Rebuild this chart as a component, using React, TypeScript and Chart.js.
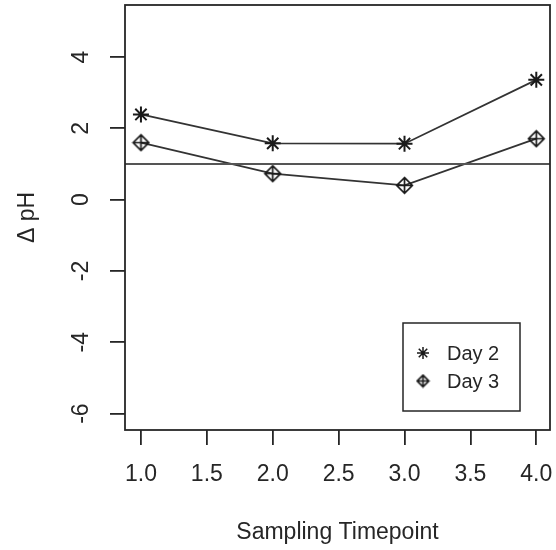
import React, { useEffect, useRef } from "react";
import { Chart, registerables } from "chart.js";
import { drawPoint } from "chart.js/helpers";

Chart.register(...registerables);

// ---- data ----
const TIMEPOINTS = [1, 2, 3, 4];
const DAY2 = [2.39, 1.58, 1.57, 3.36];
const DAY3 = [1.6, 0.73, 0.4, 1.71];
const SERIES_LABELS = ["Day 2", "Day 3"];
const REF_LINE = 1;
const X_TICKS = [1, 1.5, 2, 2.5, 3, 3.5, 4];
const Y_TICKS = [-6, -4, -2, 0, 2, 4];
const X_MIN = 0.879;
const X_MAX = 4.104;
const Y_MIN = -6.46;
const Y_MAX = 5.46;
const X_TITLE = "Sampling Timepoint";
const Y_TITLE = "\u0394 pH";

const INK = "#262626";
const FONT = "'Liberation Sans', Arial, Helvetica, sans-serif";

function makeDiamondPlus(size: number, lw: number, color: string) {
  const c = document.createElement("canvas");
  c.width = size;
  c.height = size;
  const ctx = c.getContext("2d")!;
  const h = size / 2;
  const r = h - lw;
  ctx.strokeStyle = color;
  ctx.lineWidth = lw;
  ctx.beginPath();
  ctx.moveTo(h, h - r);
  ctx.lineTo(h + r, h);
  ctx.lineTo(h, h + r);
  ctx.lineTo(h - r, h);
  ctx.closePath();
  ctx.moveTo(h, h - r);
  ctx.lineTo(h, h + r);
  ctx.moveTo(h - r, h);
  ctx.lineTo(h + r, h);
  ctx.stroke();
  return c;
}

export default function App() {
  const ref = useRef<HTMLCanvasElement | null>(null);

  useEffect(() => {
    if (!ref.current) return;
    const diamond = makeDiamondPlus(19, 1.7, "#1a1a1a");
    const diamondSmall = makeDiamondPlus(15, 1.7, "#1a1a1a");

    const framePlugin = {
      id: "frame",
      afterDatasetsDraw(chart: any) {
        const { ctx, chartArea: a, scales } = chart;
        ctx.save();
        const yr = scales.y.getPixelForValue(REF_LINE);
        ctx.strokeStyle = "#555555";
        ctx.lineWidth = 2;
        ctx.beginPath();
        ctx.moveTo(a.left, yr);
        ctx.lineTo(a.right, yr);
        ctx.stroke();
        ctx.strokeStyle = INK;
        ctx.lineWidth = 1.8;
        ctx.strokeRect(a.left, a.top, a.right - a.left, a.bottom - a.top);
        ctx.restore();
      },
      afterDraw(chart: any) {
        const { ctx, chartArea: a, scales } = chart;
        ctx.save();
        ctx.fillStyle = INK;
        ctx.font = `23px ${FONT}`;
        ctx.textAlign = "center";
        ctx.textBaseline = "middle";
        scales.y.ticks.forEach((t: any) => {
          const y = scales.y.getPixelForValue(t.value);
          ctx.save();
          ctx.translate(82, y);
          ctx.rotate(-Math.PI / 2);
          ctx.fillText(String(t.label), 0, 0);
          ctx.restore();
        });
        const bw = 117,
          bh = 88;
        const bx = a.right - 30 - bw;
        const by = a.bottom - 19 - bh;
        ctx.strokeStyle = INK;
        ctx.lineWidth = 1.5;
        ctx.strokeRect(bx, by, bw, bh);
        ctx.font = `20px ${FONT}`;
        ctx.textAlign = "left";
        ctx.textBaseline = "middle";
        const styles = ["star", diamondSmall];
        chart.data.datasets.forEach((ds: any, i: number) => {
          const yy = by + 30 + i * 28;
          ctx.strokeStyle = "#1a1a1a";
          ctx.fillStyle = "#1a1a1a";
          drawPoint(ctx, { pointStyle: styles[i], rotation: 0, borderWidth: 2, radius: 6 } as any, bx + 20, yy);
          ctx.fillStyle = INK;
          ctx.fillText(ds.label, bx + 44, yy + 1);
        });
        ctx.restore();
      },
    };

    const chart = new Chart(ref.current, {
      type: "line",
      data: {
        datasets: [
          {
            label: SERIES_LABELS[0],
            data: TIMEPOINTS.map((x, i) => ({ x, y: DAY2[i] })),
            borderColor: "#333333",
            borderWidth: 1.8,
            pointStyle: "star",
            pointRadius: 8,
            pointBorderWidth: 2,
            pointBorderColor: "#1a1a1a",
            pointBackgroundColor: "#1a1a1a",
            tension: 0,
          },
          {
            label: SERIES_LABELS[1],
            data: TIMEPOINTS.map((x, i) => ({ x, y: DAY3[i] })),
            borderColor: "#333333",
            borderWidth: 1.8,
            pointStyle: diamond as any,
            pointRadius: 8,
            tension: 0,
          },
        ],
      },
      options: {
        animation: false,
        responsive: false,
        devicePixelRatio: 1,
        layout: { autoPadding: false, padding: { top: 5, right: 6, left: 0, bottom: 0 } },
        plugins: { legend: { display: false }, tooltip: { enabled: false } },
        scales: {
          x: {
            type: "linear",
            min: X_MIN,
            max: X_MAX,
            afterBuildTicks: (s: any) => {
              s.ticks = X_TICKS.map((v) => ({ value: v }));
            },
            afterFit: (s: any) => {
              s.height = 120;
              s.paddingLeft = 0;
              s.paddingRight = 0;
              s.paddingTop = 0;
              s.paddingBottom = 0;
            },
            border: { display: false },
            grid: {
              drawOnChartArea: false,
              drawTicks: true,
              tickLength: 15,
              color: INK,
              lineWidth: 1.8,
            },
            ticks: {
              autoSkip: false,
              maxRotation: 0,
              minRotation: 0,
              padding: 16,
              color: INK,
              font: { family: FONT, size: 23 },
              callback: (v: any) => Number(v).toFixed(1),
            },
            title: {
              display: true,
              text: X_TITLE,
              color: INK,
              font: { family: FONT, size: 23 },
              padding: { top: 0, bottom: 4 },
            },
          },
          y: {
            type: "linear",
            min: Y_MIN,
            max: Y_MAX,
            afterBuildTicks: (s: any) => {
              s.ticks = Y_TICKS.map((v) => ({ value: v }));
            },
            afterFit: (s: any) => {
              s.width = 125;
              s.paddingLeft = 0;
              s.paddingRight = 0;
              s.paddingTop = 0;
              s.paddingBottom = 0;
            },
            border: { display: false },
            grid: {
              drawOnChartArea: false,
              drawTicks: true,
              tickLength: 15,
              color: INK,
              lineWidth: 1.8,
            },
            ticks: {
              display: false,
              autoSkip: false,
              callback: (v: any) => String(v),
            },
            title: {
              display: true,
              text: Y_TITLE,
              color: INK,
              font: { family: FONT, size: 23 },
              padding: { top: 14, bottom: 0 },
            },
          },
        },
      },
      plugins: [framePlugin],
    } as any);

    return () => chart.destroy();
  }, []);

  return (
    <div style={{ position: "fixed", left: 0, top: 0, width: 556, height: 550, background: "#fff" }}>
      <canvas ref={ref} width={556} height={550} style={{ width: 556, height: 550, display: "block" }} />
    </div>
  );
}
